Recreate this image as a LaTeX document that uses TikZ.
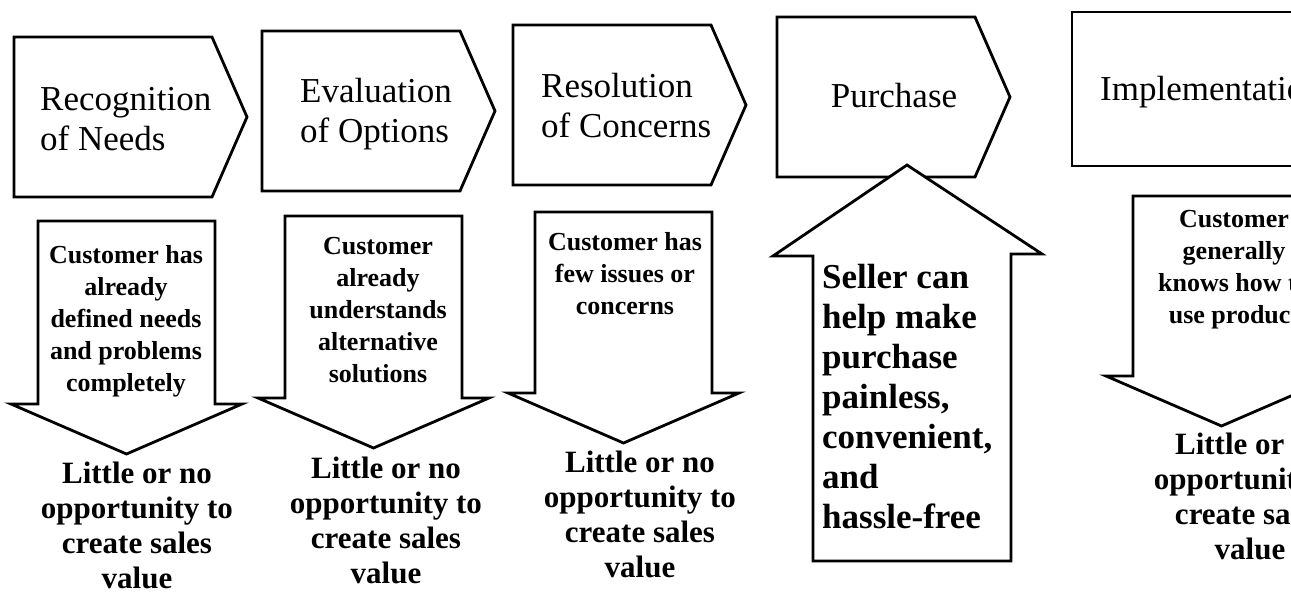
\documentclass[tikz,border=0pt]{standalone}
\usepackage{fontspec}
\setmainfont{Liberation Serif}
\begin{document}
\begin{tikzpicture}[x=1pt, y=-1pt,
        frm/.style={line width=2.8pt, fill=white},
        stagetxt/.style={inner sep=0pt, align=left, font=\fontsize{35}{40}\selectfont},
        facttxt/.style={inner sep=0pt, align=center, font=\fontsize{26}{32}\selectfont\bfseries},
        valuetxt/.style={inner sep=0pt, align=center, font=\fontsize{31}{35}\selectfont\bfseries}]
        \useasboundingbox (0,0) rectangle (1291,597);
        \clip (0,0) rectangle (1291,597);

        \foreach \l/\t in {14/37, 262/31, 513/25, 777/17}
            \draw [frm] (\l,\t) -- (\l+198,\t) -- (\l+233,\t+80) -- (\l+198,\t+160) -- (\l,\t+160) -- cycle;
        \draw [frm] (1072,12) rectangle (1330,166);

        \foreach \l/\t/\b in {38/221/404, 285/216/398, 535/212/393, 1133/196/376}
            \draw [frm] (\l,\t) -- (\l+177,\t) -- (\l+177,\b) -- (\l+204,\b) -- (\l+88.5,\b+50) -- (\l-27,\b) -- (\l,\b) -- cycle;

        \draw [frm] (907,165) -- (1042,254) -- (1011,254) -- (1011,561) -- (813,561) -- (813,256) -- (773,256) -- cycle;

        \node [stagetxt, anchor=north west] (recog) at (40,87) {Recognition\\of Needs};
        \node [stagetxt, anchor=north west] (evalopt) at (300,78) {Evaluation\\of Options};
        \node [stagetxt, anchor=north west] (resolve) at (541,73) {Resolution\\of Concerns};
        \node [stagetxt, anchor=north] (purch) at (894,83) {Purchase};
        \node [stagetxt, anchor=north west] (implem) at (1100,76) {Implementation};

        \node [facttxt, anchor=north] (needs) at (126,245) {Customer has\\already\\defined needs\\and problems\\completely};
        \node [facttxt, anchor=north] (options) at (378,237) {Customer\\already\\understands\\alternative\\solutions};
        \node [facttxt, anchor=north] (concerns) at (625,232) {Customer has\\few issues or\\concerns};
        \node [facttxt, anchor=north] (usage) at (1234,210) {Customer\\generally\\knows how to\\use product};

        \node [valuetxt, anchor=north] (value1) at (137,462) {Little or no\\opportunity to\\create sales\\value};
        \node [valuetxt, anchor=north] (value2) at (386,457) {Little or no\\opportunity to\\create sales\\value};
        \node [valuetxt, anchor=north] (value3) at (640,451) {Little or no\\opportunity to\\create sales\\value};
        \node [valuetxt, anchor=north] (value5) at (1250,433) {Little or no\\opportunity to\\create sales\\value};

        \node [inner sep=0pt, align=left, font=\fontsize{35}{40}\selectfont\bfseries, anchor=north west] (seller) at (822,264)
            {Seller can\\help make\\purchase\\painless,\\convenient,\\and\\hassle-free};
    \end{tikzpicture}
\end{document}
